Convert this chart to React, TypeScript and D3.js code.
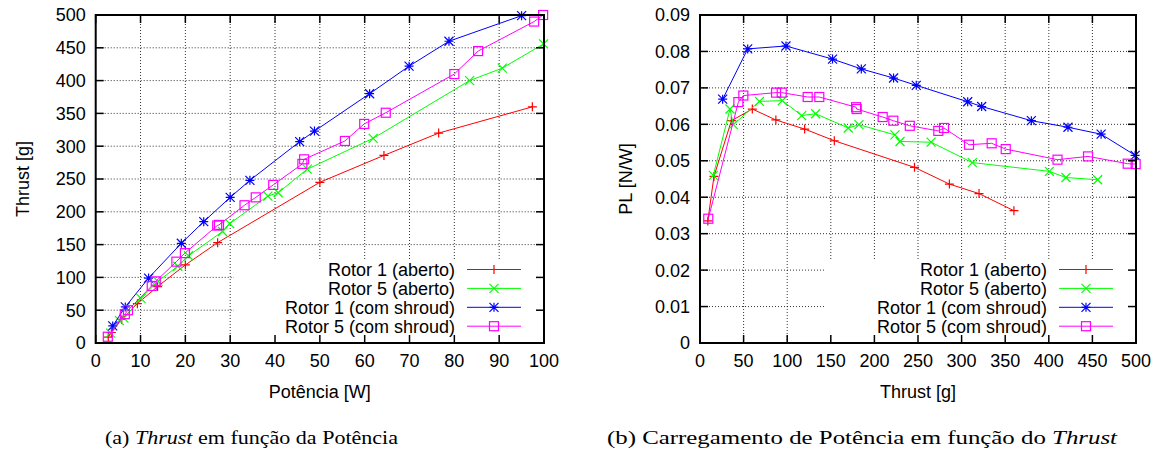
import React from "react";
import * as d3 from "d3";

// ---------- Left chart data: Potência [W] vs Thrust [g] ----------
const r1aPow = [2.8, 3.5, 5.8, 9.3, 13.8, 20, 27.2, 50, 64.3, 76.5, 97.4];
const r1aThr = [9, 16, 36, 60, 86, 119, 153, 245, 286, 320, 360];
const r5aPow = [3.3, 5.3, 6.3, 10.1, 13.9, 18.3, 20.7, 28.3, 29.9, 38.4, 40.7, 47.2, 61.9, 83.4, 90.7, 99.9];
const r5aThr = [15, 34, 38, 68, 94, 117, 133, 170, 182, 224, 229, 265, 312, 400, 419, 456];
const r1sPow = [3.8, 6.6, 11.8, 19.1, 24.1, 30, 34.4, 45.5, 48.8, 61.1, 69.9, 78.8, 95];
const r1sThr = [26, 55, 99, 152, 185, 222, 248, 307, 323, 380, 422, 460, 499];
const r5sPow = [2.7, 6.5, 7.2, 12.5, 13.4, 18, 19.9, 27.1, 27.5, 33.2, 35.7, 39.6, 46.1, 46.5, 55.6, 59.9, 64.7, 80, 85.3, 97.8, 99.8];
const r5sThr = [9.5, 44, 50, 87, 94, 124, 137, 179, 180, 210, 222, 241, 273, 280, 308, 334, 351, 410, 445, 490, 500];

// ---------- Right chart data: Thrust [g] vs PL [N/W] ----------
const r1aT = [9, 16, 36, 60, 87, 120, 154, 246, 286, 320, 360];
const r1aPL = [0.0335, 0.0457, 0.061, 0.0642, 0.0612, 0.0587, 0.0555, 0.0482, 0.0436, 0.041, 0.0363];
const r5aT = [15.3, 34.4, 38.2, 68.2, 94.4, 116.6, 132.6, 170, 182.3, 223.6, 229.4, 265, 312.3, 400.6, 419.7, 456];
const r5aPL = [0.046, 0.0642, 0.0599, 0.0663, 0.0665, 0.0624, 0.0629, 0.059, 0.0599, 0.0571, 0.0553, 0.0551, 0.0495, 0.0471, 0.0454, 0.0448];
const r1sT = [26, 54.7, 98.6, 152, 185, 222, 248, 307, 323, 380, 422, 460, 499];
const r1sPL = [0.0669, 0.0807, 0.0815, 0.0779, 0.0752, 0.0727, 0.0707, 0.0662, 0.0649, 0.061, 0.0592, 0.0573, 0.0515];
const r5sT = [9.5, 44, 49.7, 87.2, 93.7, 123.5, 136.8, 179, 179.7, 209.5, 221.7, 240.6, 273.3, 279.8, 308.5, 334.5, 350.6, 410, 445, 490.5, 499.6];
const r5sPL = [0.0341, 0.0661, 0.0679, 0.0687, 0.0687, 0.0675, 0.0675, 0.0647, 0.0642, 0.062, 0.061, 0.0596, 0.0582, 0.059, 0.0544, 0.0548, 0.0532, 0.0503, 0.0512, 0.0492, 0.0491];

const seriesNames = ["Rotor 1 (aberto)", "Rotor 5 (aberto)", "Rotor 1 (com shroud)", "Rotor 5 (com shroud)"];
const seriesColors = ["#ff0000", "#00ff00", "#0000ff", "#ff00ff"];
const seriesMarkers = ["plus", "cross", "star", "square"];

const leftXTicks = [0, 10, 20, 30, 40, 50, 60, 70, 80, 90, 100];
const leftYTicks = [0, 50, 100, 150, 200, 250, 300, 350, 400, 450, 500];
const rightXTicks = [0, 50, 100, 150, 200, 250, 300, 350, 400, 450, 500];
const rightYTicks = [0, 0.01, 0.02, 0.03, 0.04, 0.05, 0.06, 0.07, 0.08, 0.09];

const FONT = "'Liberation Sans', Arial, Helvetica, sans-serif";
const SERIF = "'Liberation Serif', 'DejaVu Serif', serif";

function Marker({ type, x, y, color }: { type: string; x: number; y: number; color: string }) {
  const s = 4.5;
  const plus = `M${x - s},${y}H${x + s}M${x},${y - s}V${y + s}`;
  const cross = `M${x - s},${y - s}L${x + s},${y + s}M${x - s},${y + s}L${x + s},${y - s}`;
  if (type === "plus") return <path d={plus} stroke={color} strokeWidth={1.2} fill="none" />;
  if (type === "cross") return <path d={cross} stroke={color} strokeWidth={1.2} fill="none" />;
  if (type === "star") return <path d={plus + cross} stroke={color} strokeWidth={1.2} fill="none" />;
  return <rect x={x - s} y={y - s} width={2 * s} height={2 * s} stroke={color} strokeWidth={1.2} fill="none" />;
}

type Series = { xs: number[]; ys: number[] };

function Panel({
  x0, x1, y0, y1, xDomain, yDomain, xTicks, yTicks, yFmt, series, xTitle, yTitle, yTitleX, keyLeft,
}: {
  x0: number; x1: number; y0: number; y1: number;
  xDomain: [number, number]; yDomain: [number, number];
  xTicks: number[]; yTicks: number[]; yFmt: (v: number) => string;
  series: Series[]; xTitle: string; yTitle: string; yTitleX: number; keyLeft: number;
}) {
  const xs = d3.scaleLinear().domain(xDomain).range([x0, x1]);
  const ys = d3.scaleLinear().domain(yDomain).range([y1, y0]);
  const line = d3.line<[number, number]>().x((d) => xs(d[0])).y((d) => ys(d[1]));
  const tickLen = 8;
  const keyTop = 261;
  const rowY = (i: number) => 269.5 + i * 18.9;
  return (
    <g>
      {/* grid */}
      {xTicks.filter((t) => t !== xDomain[0] && t !== xDomain[1]).map((t) => (
        <line key={"gx" + t} x1={xs(t)} x2={xs(t)} y1={y0} y2={y1} stroke="#000" strokeWidth={1} strokeDasharray="1,2" opacity={0.8} />
      ))}
      {yTicks.filter((t) => t !== yDomain[0] && t !== yDomain[1]).map((t) => (
        <line key={"gy" + t} x1={x0} x2={x1} y1={ys(t)} y2={ys(t)} stroke="#000" strokeWidth={1} strokeDasharray="1,2" opacity={0.8} />
      ))}
      {/* key box blanks grid */}
      <rect x={keyLeft} y={keyTop} width={x1 - keyLeft} height={y1 - keyTop} fill="#fff" />
      {/* data */}
      {series.map((s, i) => {
        const pts = s.xs.map((v, j) => [v, s.ys[j]] as [number, number]);
        return (
          <g key={"s" + i}>
            <path d={line(pts) || ""} fill="none" stroke={seriesColors[i]} strokeWidth={1} />
            {pts.map((p, j) => (
              <Marker key={j} type={seriesMarkers[i]} x={xs(p[0])} y={ys(p[1])} color={seriesColors[i]} />
            ))}
          </g>
        );
      })}
      {/* key */}
      {seriesNames.map((n, i) => (
        <g key={"k" + i}>
          <text x={x1 - 89} y={rowY(i)} dy="0.35em" textAnchor="end" fontFamily={FONT} fontSize={18} fill="#000">{n}</text>
          <line x1={x1 - 77} x2={x1 - 23} y1={rowY(i)} y2={rowY(i)} stroke={seriesColors[i]} strokeWidth={1} />
          <Marker type={seriesMarkers[i]} x={x1 - 50} y={rowY(i)} color={seriesColors[i]} />
        </g>
      ))}
      {/* ticks */}
      {xTicks.map((t) => (
        <g key={"tx" + t}>
          <line x1={xs(t)} x2={xs(t)} y1={y1} y2={y1 - tickLen} stroke="#000" strokeWidth={1.5} />
          <line x1={xs(t)} x2={xs(t)} y1={y0} y2={y0 + tickLen} stroke="#000" strokeWidth={1.5} />
          <text x={xs(t)} y={y1 + 24} textAnchor="middle" fontFamily={FONT} fontSize={18} fill="#000">{t}</text>
        </g>
      ))}
      {yTicks.map((t) => (
        <g key={"ty" + t}>
          <line x1={x0} x2={x0 + tickLen} y1={ys(t)} y2={ys(t)} stroke="#000" strokeWidth={1.5} />
          <line x1={x1} x2={x1 - tickLen} y1={ys(t)} y2={ys(t)} stroke="#000" strokeWidth={1.5} />
          <text x={x0 - 10} y={ys(t)} dy="0.36em" textAnchor="end" fontFamily={FONT} fontSize={18} fill="#000">{yFmt(t)}</text>
        </g>
      ))}
      {/* border */}
      <rect x={x0} y={y0} width={x1 - x0} height={y1 - y0} fill="none" stroke="#000" strokeWidth={2} />
      {/* titles */}
      <text x={(x0 + x1) / 2} y={y1 + 55} textAnchor="middle" fontFamily={FONT} fontSize={18} fill="#000">{xTitle}</text>
      <text transform={`translate(${yTitleX},${(y0 + y1) / 2}) rotate(-90)`} textAnchor="middle" dy="0.35em" fontFamily={FONT} fontSize={18} fill="#000">{yTitle}</text>
    </g>
  );
}

export default function App() {
  const leftSeries: Series[] = [
    { xs: r1aPow, ys: r1aThr },
    { xs: r5aPow, ys: r5aThr },
    { xs: r1sPow, ys: r1sThr },
    { xs: r5sPow, ys: r5sThr },
  ];
  const rightSeries: Series[] = [
    { xs: r1aT, ys: r1aPL },
    { xs: r5aT, ys: r5aPL },
    { xs: r1sT, ys: r1sPL },
    { xs: r5sT, ys: r5sPL },
  ];
  return (
    <svg width={1165} height={459} style={{ position: "absolute", left: 0, top: 0, background: "#fff" }}>
      <rect width={1165} height={459} fill="#fff" />
      <Panel x0={95.7} x1={544} y0={15} y1={343} xDomain={[0, 100]} yDomain={[0, 500]}
        xTicks={leftXTicks} yTicks={leftYTicks} yFmt={(v) => String(v)} series={leftSeries}
        xTitle="Potência [W]" yTitle="Thrust [g]" yTitleX={23} keyLeft={234} />
      <Panel x0={700} x1={1136} y0={15} y1={343} xDomain={[0, 500]} yDomain={[0, 0.09]}
        xTicks={rightXTicks} yTicks={rightYTicks} yFmt={(v) => (v === 0 ? "0" : d3.format(".2f")(v))} series={rightSeries}
        xTitle="Thrust [g]" yTitle="PL [N/W]" yTitleX={626} keyLeft={826} />
      <text x={251.5} y={444} textAnchor="middle" fontFamily={SERIF} fontSize={18} fill="#000" textLength={293} lengthAdjust="spacingAndGlyphs">
        (a) <tspan fontStyle="italic">Thrust</tspan> em função da Potência
      </text>
      <text x={862} y={444} textAnchor="middle" fontFamily={SERIF} fontSize={18} fill="#000" textLength={510} lengthAdjust="spacingAndGlyphs">
        (b) Carregamento de Potência em função do <tspan fontStyle="italic">Thrust</tspan>
      </text>
    </svg>
  );
}
